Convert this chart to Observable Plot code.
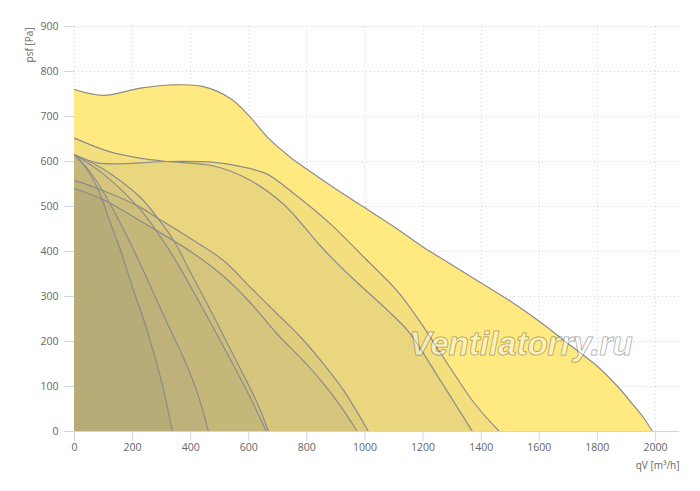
<!DOCTYPE html>
<html><head><meta charset="utf-8">
<script src="https://cdn.jsdelivr.net/npm/d3@7"></script>
<script src="https://cdn.jsdelivr.net/npm/@observablehq/plot@0.6"></script>
<style>
body{margin:0;background:#fff}
#chart{width:700px;height:491px}
</style>
</head><body><div id="chart"></div>
<script>
// Fan curves: [qV m³/h, psf Pa]
const curveA = [[0,760],[100,747],[227,763],[330,770],[440,767],[537,740],[606,698],[664,654],[744,609],[802,582],[892,542],[1000,497],[1100,455],[1200,410],[1300,370],[1400,330],[1500,290],[1600,245],[1700,195],[1800,145],[1870,100],[1920,62],[1960,30],[1990,0]];
const curveB = [[0,615],[80,597],[200,596],[320,600],[480,598],[570,589],[660,573],[755,529],[880,462],[1000,385],[1110,313],[1180,253],[1290,145],[1380,60],[1463,0]];
const curveC = [[0,652],[120,622],[230,607],[320,600],[480,590],[600,560],[720,505],[850,410],[950,345],[1080,268],[1150,222],[1260,113],[1370,0]];
const curveF1 = [[0,558],[100,535],[227,498],[289,473],[399,429],[513,380],[606,320],[700,260],[778,210],[860,148],[930,88],[1012,0]];
const curveF2 = [[0,540],[100,515],[227,468],[300,440],[400,400],[513,345],[600,290],[700,215],[778,164],[850,112],[910,62],[974,0]];
const curveE4 = [[0,615],[100,583],[227,520],[289,472],[341,425],[400,353],[460,280],[520,204],[580,128],[630,62],[668,0]];
const curveE3 = [[0,615],[100,572],[227,493],[286,442],[341,388],[406,315],[470,240],[537,160],[600,82],[661,0]];
const curveE2 = [[0,615],[50,580],[107,524],[160,460],[210,395],[260,325],[320,240],[390,142],[430,72],[461,0]];
const curveE1 = [[0,615],[40,585],[80,540],[120,470],[160,400],[200,320],[250,225],[300,110],[337,0]];

const xTicks = [0,200,400,600,800,1000,1200,1400,1600,1800,2000];
const yTicks = [0,100,200,300,400,500,600,700,800,900];
const xLabel = "qV [m³/h]";
const yLabel = "psf [Pa]";
const watermark = "Ventilatorry.ru";

const order = [curveA, curveB, curveC, curveF1, curveF2, curveE4, curveE3, curveE2, curveE1];
const rows = order.flatMap((c, i) => c.map(([q, p]) => ({id: i, q, p})));

const font = "'Open Sans', sans-serif";
const tickColor = "#ccd6eb";
const curve = "catmull-rom";

const marks = [
  Plot.gridY(yTicks.filter(d => d > 0), {stroke: "#d0d0d0", strokeOpacity: 1, strokeDasharray: "1,3"}),
  Plot.gridX(xTicks, {stroke: "#d0d0d0", strokeOpacity: 1, strokeDasharray: "1,3"}),
  Plot.areaY(rows.filter(d => d.id === 0), {x: "q", y1: 0, y2: "p", curve, fill: "#FFE980"}),
  Plot.areaY(rows.filter(d => d.id > 0), {x: "q", y1: 0, y2: "p", z: "id", curve, fill: "#646473", fillOpacity: 0.072}),
  Plot.lineY(rows, {x: "q", y: "p", z: "id", curve, stroke: "#8c8c8c", strokeWidth: 1.2}),
  Plot.ruleY([0], {stroke: tickColor}),
  Plot.axisX(xTicks, {tickSize: 10, tickPadding: 2, stroke: tickColor, fill: "#666", fontSize: 10.5, label: null, tickFormat: d => String(d)}),
  Plot.axisY(yTicks, {tickSize: 10, tickPadding: 6, stroke: tickColor, fill: "#666", fontSize: 10.5, label: null, tickFormat: d => String(d)}),
  Plot.text([xLabel], {frameAnchor: "bottom-right", textAnchor: "end", dx: 0, dy: 37, fill: "#666", fontSize: 10}),
  Plot.text([yLabel], {frameAnchor: "top-left", rotate: -90, textAnchor: "end", dx: -49, dy: 1, fill: "#666", fontSize: 10}),
  Plot.text([watermark], {frameAnchor: "middle", dx: 144, dy: 115, fontSize: 33, fontWeight: "bold", fontStyle: "italic", fontFamily: "'Liberation Sans', Arial, sans-serif", fill: "#fff", fillOpacity: 0.45, stroke: "#000", strokeOpacity: 0.4, strokeWidth: 1})
];

const chart = Plot.plot({
  width: 700,
  height: 491,
  marginLeft: 74,
  marginRight: 21,
  marginTop: 26,
  marginBottom: 60,
  style: {fontFamily: font, background: "#fff", overflow: "visible"},
  x: {domain: [0, 2083]},
  y: {domain: [0, 900]},
  marks
});
document.getElementById("chart").appendChild(chart);
</script>
</body></html>
